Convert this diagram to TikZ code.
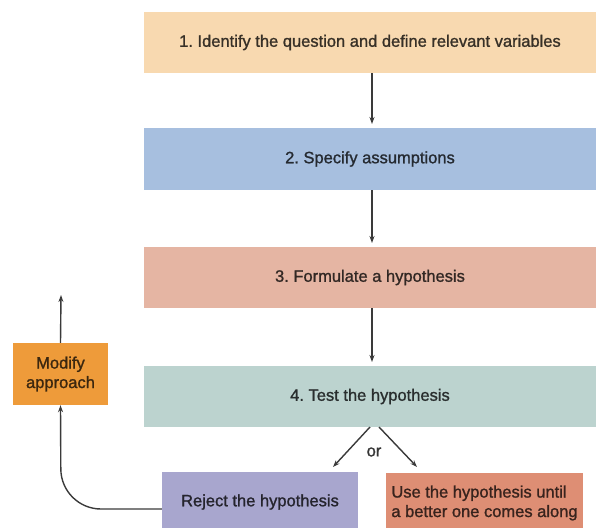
\documentclass[tikz,border=0pt]{standalone}
\usepackage{fontspec}
\setmainfont{Liberation Sans}
\newfontfamily\medfont{Liberation Sans}[FakeBold=1.2]
\usetikzlibrary{arrows.meta}
\definecolor{cA}{HTML}{F8D9B0}
\definecolor{cB}{HTML}{A7BFDF}
\definecolor{cC}{HTML}{E5B5A3}
\definecolor{cD}{HTML}{BCD3CF}
\definecolor{cM}{HTML}{EE9B3A}
\definecolor{cR}{HTML}{A8A6CE}
\definecolor{cU}{HTML}{DE8E74}
\definecolor{txt}{HTML}{363636}
\definecolor{ln}{HTML}{3A3A3A}
\frenchspacing
\begin{document}
\begin{tikzpicture}[x=1pt,y=-1pt,
  wide/.style={minimum width=452pt,minimum height=61pt,inner sep=0pt,font=\medfont\fontsize{16.5}{19}\selectfont,text=txt},
  small/.style={inner sep=0pt,font=\medfont\fontsize{16.5}{19.5}\selectfont,text=txt},
  conn/.style={draw=ln,line width=1.4pt,-{Stealth[length=7pt,width=5pt]}}]
\useasboundingbox (0,0) rectangle (596,527);
\node[wide,fill=cA,text=black!78!cA] (s1) at (370,42.5) {1. Identify the question and define relevant variables};
\node[wide,fill=cB,minimum height=62pt,text=black!78!cB] (s2) at (370,159) {2. Specify assumptions};
\node[wide,fill=cC,text=black!78!cC] (s3) at (370,277.5) {3. Formulate a hypothesis};
\node[wide,fill=cD,text=black!78!cD] (s4) at (370,396.5) {4. Test the hypothesis};
\node[small,fill=cM,minimum width=95pt,minimum height=62pt,align=center,text=black!75!cM] (mod) at (60.5,374) {Modify\\approach};
\node[small,fill=cR,minimum width=196pt,minimum height=60pt,text=black!78!cR] (rej) at (260,502) {Reject the hypothesis};
\node[small,fill=cU,minimum width=197pt,minimum height=60pt,align=left,text=black!75!cU] (use) at (484.5,503) {Use the hypothesis until\\a better one comes along};
\coordinate (up) at (61,295);
\node[small] (or) at (374,452) {or};
\coordinate (rl) at (333,467);
\coordinate (rr) at (417,467);
\draw[conn] (372,73) -- (372,124);
\draw[conn] (372,190) -- (372,243);
\draw[conn] (372,308) -- (372,362);
\draw[conn] (370,427) -- (rl);
\draw[conn] (379,427) -- (rr);
\draw[conn] (mod.north) -- (up);
\draw[conn,rounded corners=40pt] (rej.west |- 0,509) -- (61,509) -- (mod.south);
\end{tikzpicture}
\end{document}
